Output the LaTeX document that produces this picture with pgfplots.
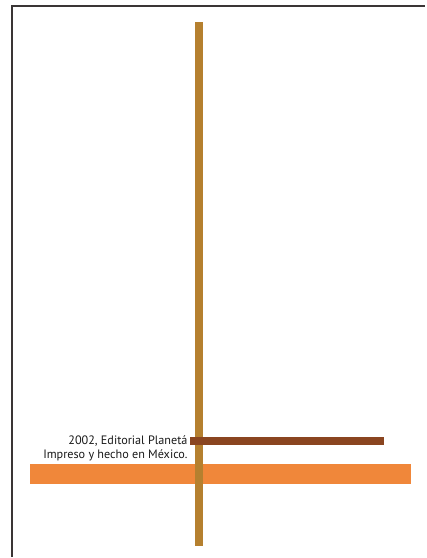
\documentclass[border=0pt]{standalone}
\usepackage{pgfplots}
\pgfplotsset{compat=1.18}
\usepackage{fontspec}
\setmainfont{PT Sans}
\definecolor{vbar}{HTML}{B5802F}
\definecolor{dbar}{HTML}{8A4520}
\definecolor{obar}{HTML}{F0873A}
\definecolor{frame}{HTML}{3A3535}
\begin{document}
\begin{tikzpicture}
\begin{axis}[
  width=426pt, height=558pt, scale only axis,
  xmin=0, xmax=426, ymin=0, ymax=558, y dir=reverse,
  hide axis, clip=false,
]
\path (axis cs:0,0) rectangle (axis cs:426,558);
% frame
\addplot[frame, line width=2pt] coordinates {(12.5,558) (12.5,6.5) (426,6.5)};
% orange bar
\addplot[fill=obar, draw=none] coordinates {(30,465) (412,465) (412,485) (30,485)} -- cycle;
% vertical bar
\addplot[fill=vbar, draw=none] coordinates {(195,22) (203,22) (203,547) (195,547)} -- cycle;
% dark bar
\addplot[fill=dbar, draw=none] coordinates {(190,438) (385,438) (385,446) (190,446)} -- cycle;
\node[anchor=east, text=black!90, font=\fontsize{12.2}{14}\selectfont, inner sep=0pt] at (axis cs:188,441.5) {2002, Editorial Planetá};
\node[anchor=east, text=black!90, font=\fontsize{12.2}{14}\selectfont, inner sep=0pt] at (axis cs:188,456.5) {Impreso y hecho en México.};
\end{axis}
\end{tikzpicture}
\end{document}
